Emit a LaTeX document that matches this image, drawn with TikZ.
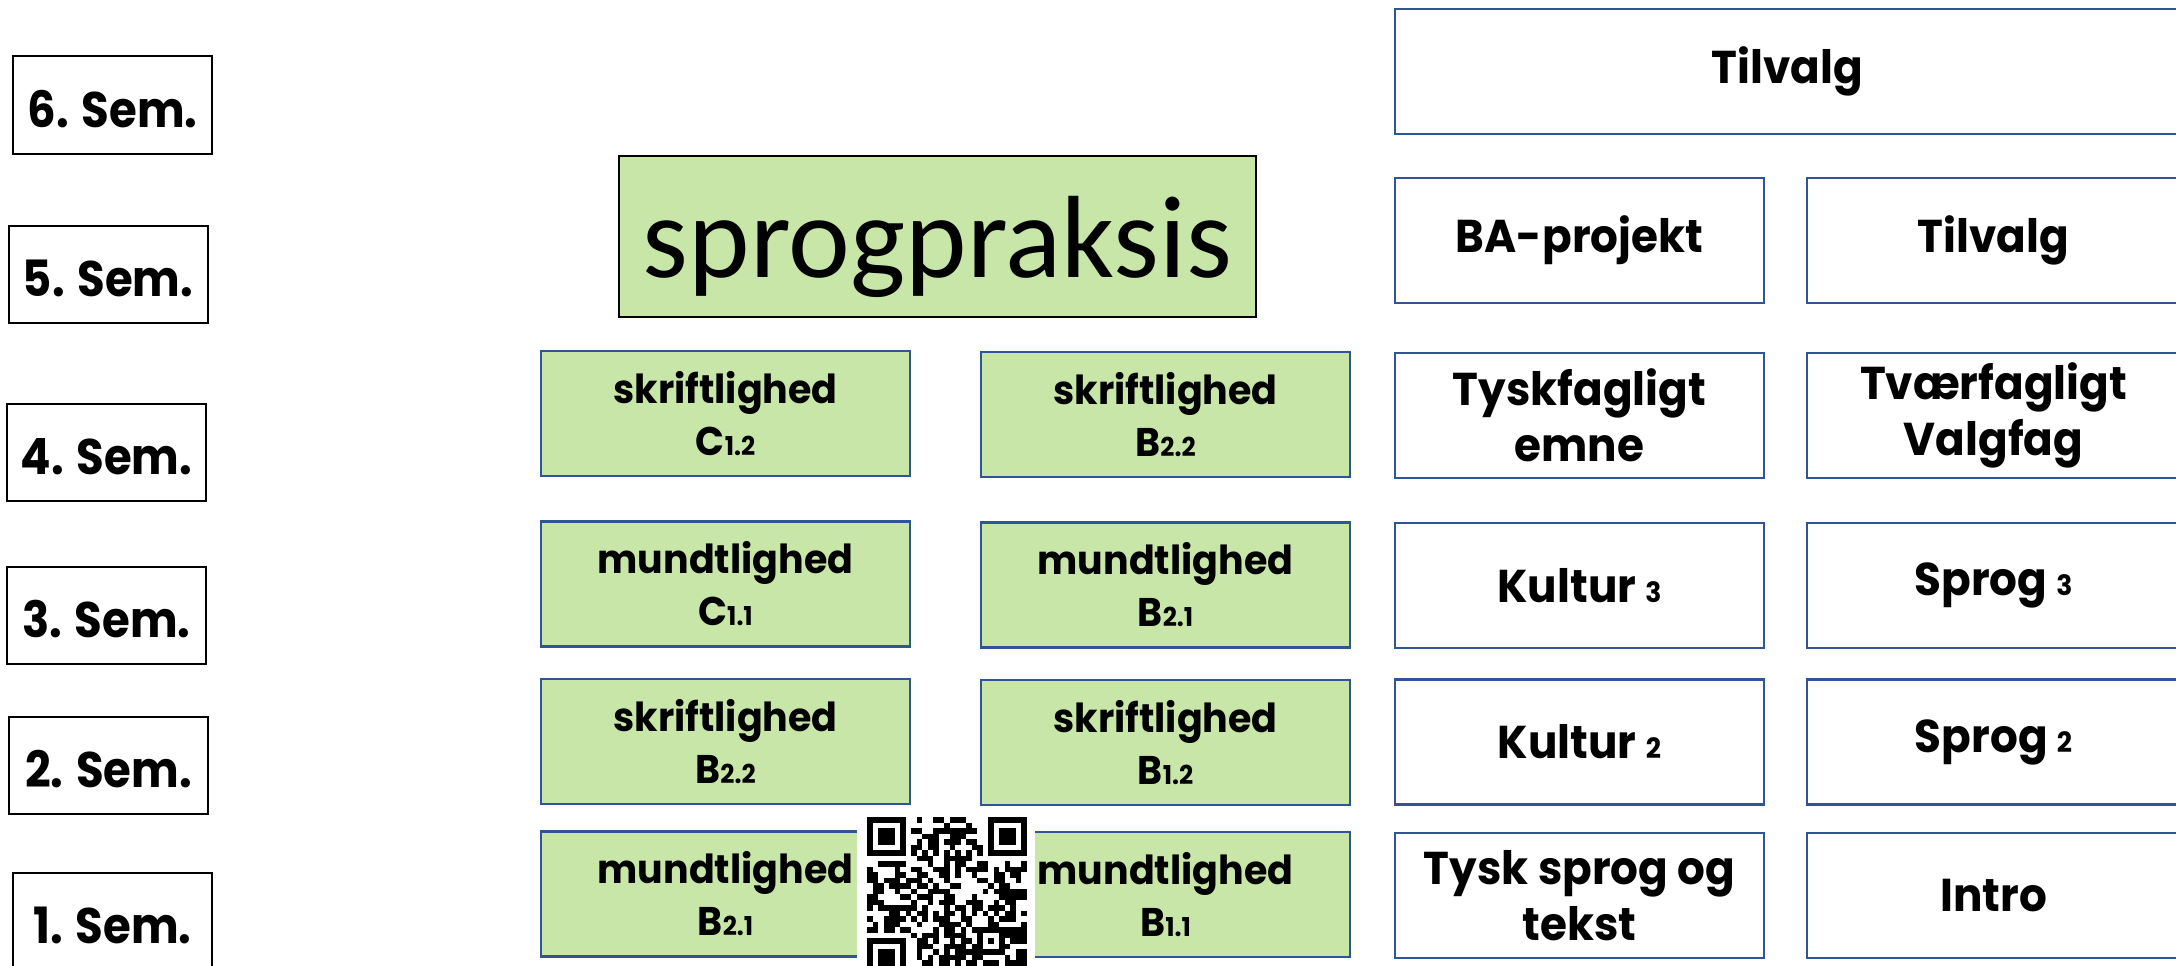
\documentclass[tikz,border=0pt]{standalone}
\usepackage{fontspec}
\newfontfamily\futb{Poppins}[FakeStretch=0.95]
\newfontfamily\futsem{Poppins}[FakeStretch=0.9]
\newfontfamily\carl{Carlito}
\definecolor{boxblue}{HTML}{2F5597}
\definecolor{lgreen}{HTML}{C8E6A8}
\newcommand{\subnum}[1]{{\fontsize{26}{26}\selectfont #1}}
\newcommand{\subnumR}[1]{{\fontsize{28}{28}\selectfont #1}}
\tikzset{
  sem/.style={draw=black, line width=2pt, fill=white, minimum width=199pt, minimum height=97pt, inner sep=0pt, text height=44pt, text depth=0pt, font=\futsem\bfseries\fontsize{50}{60}\selectfont},
  gbox/.style={draw=boxblue, line width=2.5pt, fill=lgreen, minimum width=369pt, minimum height=125pt, inner sep=0pt, align=center, font=\futb\bfseries\fontsize{40}{52}\selectfont},
  wbox/.style={draw=boxblue, line width=2.5pt, fill=white, minimum width=369pt, minimum height=125pt, inner sep=0pt, align=center, font=\futb\bfseries\fontsize{46}{56}\selectfont},
  qrmod/.style={fill=black},
}
\newcommand{\finder}[2]{%
  \fill[black] (#1,#2) rectangle ++(38.5,38.5);
  \fill[white] (#1+5.5,#2+5.5) rectangle ++(27.5,27.5);
  \fill[black] (#1+11,#2+11) rectangle ++(16.5,16.5);
}
\begin{document}
\begin{tikzpicture}[x=1pt,y=-1pt]
\useasboundingbox (0,0) rectangle (2176,966);
\clip (0,0) rectangle (2176,966);
\fill[white] (0,0) rectangle (2176,966);

% semester labels
\node[sem] (s6) at (112.5,105) {6. Sem.};
\node[sem] (s5) at (108,274.5) {5. Sem.};
\node[sem] (s4) at (106.5,452) {4. Sem.};
\node[sem] (s3) at (106.5,615) {3. Sem.};
\node[sem] (s2) at (108.5,765) {2. Sem.};
\node[sem] (s1) at (112.5,921) {1. Sem.};

% sprogpraksis
\node[draw=black, line width=1.5pt, fill=lgreen, minimum width=637pt, minimum height=161pt, inner sep=0pt] (sp) at (937.5,236.5) {};
\node[font=\carl\fontsize{117}{117}\selectfont, inner sep=0pt] (sptxt) at (937.5,246.5) {sprogpraksis};

% green boxes
\node[gbox] (g41) at (725.5,413.5) {skriftlighed\\C\subnum{1.2}};
\node[gbox] (g42) at (1165.5,414.5) {skriftlighed\\B\subnum{2.2}};
\node[gbox] (g31) at (725.5,584) {mundtlighed\\C\subnum{1.1}};
\node[gbox] (g32) at (1165.5,585) {mundtlighed\\B\subnum{2.1}};
\node[gbox] (g21) at (725.5,741.5) {skriftlighed\\B\subnum{2.2}};
\node[gbox] (g22) at (1165.5,742.5) {skriftlighed\\B\subnum{1.2}};
\node[gbox] (g11) at (725.5,894) {mundtlighed\\B\subnum{2.1}};
\node[gbox] (g12) at (1165.5,894.5) {mundtlighed\\B\subnum{1.1}};

% right column
\node[wbox, minimum width=785pt] (t6) at (1787.5,71.5) {Tilvalg};
\node[wbox] (ba) at (1579.5,240.5) {BA-projekt};
\node[wbox, minimum width=373pt] (t5) at (1993.5,240.5) {Tilvalg};
\node[wbox] (ty4) at (1579.5,415.5) {Tyskfagligt\\emne};
\node[wbox, minimum width=373pt] (tv4) at (1993.5,415.5) {Tværfagligt\\Valgfag};
\node[wbox] (k3) at (1579.5,585.5) {Kultur \subnumR{3}};
\node[wbox, minimum width=373pt] (sp3) at (1993.5,585.5) {Sprog \subnumR{3}};
\node[wbox] (k2) at (1579.5,742) {Kultur \subnumR{2}};
\node[wbox, minimum width=373pt] (sp2) at (1993.5,742) {Sprog \subnumR{2}};
\node[wbox] (ts1) at (1579.5,895.5) {Tysk sprog og\\tekst};
\node[wbox, minimum width=373pt] (in1) at (1993.5,895.5) {Intro};

% QR code
\fill[white] (857,808) rectangle (1035,970);
\pgfmathsetseed{4711}
\foreach \i in {0,...,28}{
  \foreach \j in {0,...,28}{
    \pgfmathrandominteger{\r}{0}{1}
    \pgfmathtruncatemacro{\qs}{((\i<8)&&(\j<8)) || ((\i>20)&&(\j<8)) || ((\i<8)&&(\j>20)) || ((\i>19)&&(\i<25)&&(\j>19)&&(\j<25)) || (\i==6) || (\j==6)}
    \ifnum\qs=0 \ifnum\r=1 \fill[qrmod] (867+\i*5.5,817+\j*5.5) rectangle ++(5.6,5.6); \fi\fi
  }
}
\foreach \k in {8,10,...,20}{
  \fill[qrmod] (867+\k*5.5,817+6*5.5) rectangle ++(5.5,5.5);
  \fill[qrmod] (867+6*5.5,817+\k*5.5) rectangle ++(5.5,5.5);
}
\finder{867}{817}
\finder{988}{817}
\finder{867}{938}
\fill[black] (867+20*5.5,817+20*5.5) rectangle ++(27.5,27.5);
\fill[white] (867+21*5.5,817+21*5.5) rectangle ++(16.5,16.5);
\fill[black] (867+22*5.5,817+22*5.5) rectangle ++(5.5,5.5);
\end{tikzpicture}
\end{document}
